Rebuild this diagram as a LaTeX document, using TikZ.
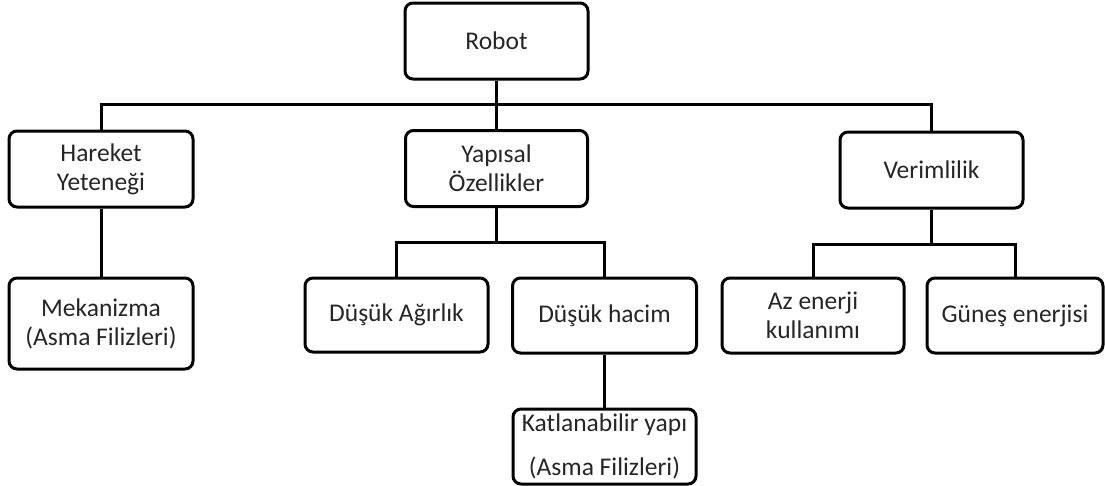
\documentclass[tikz,border=0pt]{standalone}
\usepackage{fontspec}
\setmainfont{Carlito}
\begin{document}
\begin{tikzpicture}[x=1pt,y=-1pt,
  box/.style={draw=black, line width=3pt, rounded corners=8pt, fill=white,
    align=center, inner sep=0pt, font=\fontsize{25.5}{29}\selectfont,
    text=black!85, minimum height=75pt},
  link/.style={draw=black, line width=3pt}]
\useasboundingbox (0,0) rectangle (1105,485);
% top level
\node[box, minimum width=183pt, minimum height=76pt] (robot) at (496.5,41) {Robot};
% second level
\node[box, minimum width=184pt, minimum height=76pt] (hareket) at (101,169) {Hareket\\Yeteneği};
\node[box, minimum width=182pt, minimum height=76pt] (yapisal) at (496.5,168.5) {Yapısal\\Özellikler};
\node[box, minimum width=183pt, minimum height=76pt] (verim) at (931.5,170) {Verimlilik};
% third level
\node[box, minimum width=184pt, minimum height=91pt] (mekan) at (101,323.5) {Mekanizma\\(Asma Filizleri)};
\node[box, minimum width=183pt, minimum height=74pt] (agirlik) at (396.5,315) {Düşük Ağırlık};
\node[box, minimum width=184pt] (hacim) at (604.5,315.5) {Düşük hacim};
\node[box, minimum width=182pt] (azenerji) at (813,315.5) {Az enerji\\kullanımı};
\node[box, minimum width=176pt] (gunes) at (1015,315.5) {Güneş enerjisi};
% fourth level
\node[box, minimum width=183pt] (katlan) at (604.5,446.5) {Katlanabilir yapı\\[15pt](Asma Filizleri)};
% bus heights
\coordinate (busA) at (0,104);
\coordinate (busB) at (0,242);
\coordinate (busC) at (0,244);
% connectors
\draw[link] (robot.south) -- (yapisal.north);
\draw[link] (hareket.north) |- (verim.north |- busA) -- (verim.north);
\draw[link] (hareket.south) -- (mekan.north);
\draw[link] (yapisal.south) -- (yapisal.south |- busB);
\draw[link] (agirlik.north) |- (hacim.north |- busB) -- (hacim.north);
\draw[link] (verim.south) -- (verim.south |- busC);
\draw[link] (azenerji.north) |- (gunes.north |- busC) -- (gunes.north);
\draw[link] (hacim.south) -- (katlan.north);
\end{tikzpicture}
\end{document}
